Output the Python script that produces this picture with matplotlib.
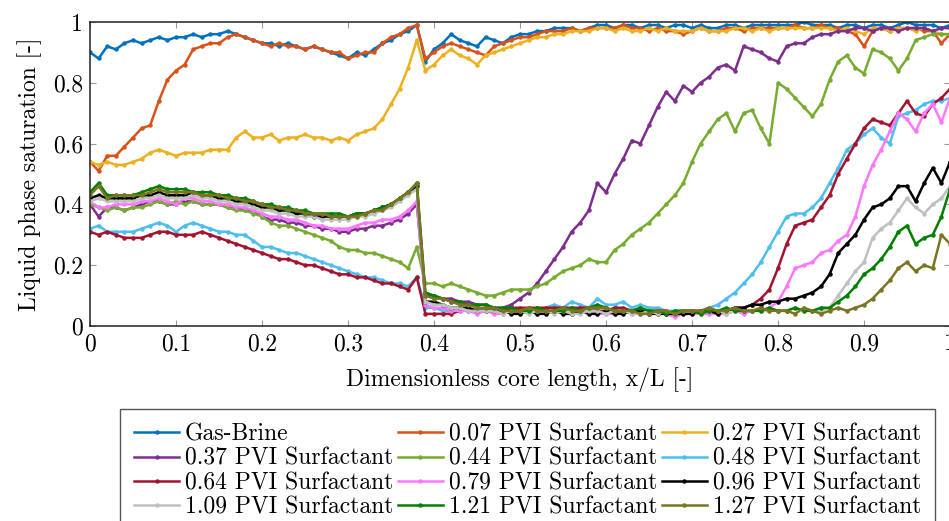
import numpy as np
import matplotlib
matplotlib.use("Agg")
import matplotlib.pyplot as plt

plt.rcParams['font.family'] = ['cmr10', 'DejaVu Serif']
plt.rcParams['axes.formatter.use_mathtext'] = True
plt.rcParams['mathtext.fontset'] = 'cm'

# Saturation profiles sampled every 0.01 along the core
x_pos = np.linspace(0.0, 1.0, 101)

gas_brine = [
    0.90, 0.88, 0.92, 0.91, 0.93, 0.94, 0.93, 0.94, 0.95, 0.94,
    0.95, 0.95, 0.96, 0.95, 0.96, 0.96, 0.97, 0.96, 0.95, 0.94,
    0.93, 0.93, 0.92, 0.93, 0.92, 0.91, 0.92, 0.91, 0.90, 0.89,
    0.88, 0.90, 0.89, 0.91, 0.93, 0.94, 0.96, 0.97, 0.99, 0.87,
    0.91, 0.93, 0.96, 0.94, 0.93, 0.92, 0.95, 0.94, 0.93, 0.95,
    0.96, 0.96, 0.97, 0.97, 0.98, 0.98, 0.98, 0.97, 0.98, 0.99,
    0.99, 0.98, 0.99, 0.99, 0.98, 0.99, 0.99, 0.98, 0.99, 0.99,
    0.98, 0.99, 0.98, 0.98, 0.99, 0.99, 0.98, 0.99, 0.99, 0.99,
    0.99, 0.99, 0.99, 1.00, 0.99, 0.99, 0.99, 0.98, 0.99, 0.99,
    0.98, 0.99, 0.99, 0.98, 0.99, 1.00, 0.99, 0.99, 0.99, 0.98,
    0.99]
pvi_007 = [
    0.54, 0.51, 0.56, 0.56, 0.59, 0.62, 0.65, 0.66, 0.74, 0.81,
    0.84, 0.86, 0.91, 0.92, 0.93, 0.93, 0.95, 0.96, 0.95, 0.94,
    0.93, 0.92, 0.93, 0.92, 0.92, 0.91, 0.92, 0.91, 0.90, 0.90,
    0.88, 0.89, 0.90, 0.90, 0.93, 0.95, 0.96, 0.98, 0.99, 0.88,
    0.90, 0.92, 0.93, 0.92, 0.91, 0.90, 0.89, 0.92, 0.93, 0.94,
    0.95, 0.95, 0.96, 0.97, 0.97, 0.97, 0.98, 0.97, 0.98, 0.98,
    0.98, 0.98, 0.99, 0.98, 0.98, 0.97, 0.98, 0.97, 0.97, 0.96,
    0.97, 0.98, 0.97, 0.97, 0.98, 0.98, 0.97, 0.98, 0.98, 0.98,
    0.98, 0.98, 0.99, 0.98, 0.98, 0.99, 0.98, 0.98, 0.97, 0.96,
    0.92, 0.97, 0.98, 0.97, 0.98, 0.98, 0.98, 0.97, 0.97, 0.93,
    0.96]
pvi_027 = [
    0.54, 0.53, 0.54, 0.53, 0.53, 0.54, 0.55, 0.57, 0.58, 0.57,
    0.56, 0.57, 0.57, 0.57, 0.58, 0.58, 0.58, 0.62, 0.64, 0.62,
    0.62, 0.63, 0.61, 0.62, 0.62, 0.63, 0.62, 0.62, 0.61, 0.62,
    0.61, 0.63, 0.64, 0.65, 0.68, 0.73, 0.78, 0.85, 0.94, 0.84,
    0.86, 0.89, 0.91, 0.89, 0.88, 0.86, 0.89, 0.90, 0.91, 0.92,
    0.93, 0.94, 0.95, 0.95, 0.96, 0.96, 0.97, 0.97, 0.97, 0.98,
    0.98, 0.97, 0.98, 0.97, 0.97, 0.98, 0.97, 0.98, 0.97, 0.97,
    0.97, 0.98, 0.97, 0.97, 0.97, 0.98, 0.98, 0.97, 0.98, 0.97,
    0.98, 0.98, 0.98, 0.98, 0.98, 0.98, 0.98, 0.97, 0.98, 0.97,
    0.96, 0.98, 0.98, 0.97, 0.98, 0.98, 0.97, 0.98, 0.97, 0.96,
    0.96]
pvi_037 = [
    0.40, 0.36, 0.39, 0.39, 0.38, 0.39, 0.40, 0.41, 0.41, 0.40,
    0.40, 0.41, 0.41, 0.40, 0.40, 0.40, 0.39, 0.39, 0.38, 0.38,
    0.36, 0.35, 0.35, 0.34, 0.34, 0.33, 0.33, 0.32, 0.32, 0.31,
    0.31, 0.32, 0.32, 0.33, 0.33, 0.34, 0.35, 0.37, 0.40, 0.10,
    0.10, 0.09, 0.09, 0.08, 0.08, 0.07, 0.07, 0.06, 0.06, 0.07,
    0.09, 0.11, 0.14, 0.18, 0.22, 0.26, 0.31, 0.34, 0.38, 0.47,
    0.44, 0.50, 0.55, 0.61, 0.60, 0.66, 0.72, 0.77, 0.74, 0.79,
    0.77, 0.80, 0.82, 0.85, 0.86, 0.84, 0.92, 0.91, 0.90, 0.88,
    0.87, 0.92, 0.93, 0.93, 0.95, 0.96, 0.96, 0.97, 0.97, 0.98,
    0.98, 0.97, 0.98, 0.98, 0.97, 0.98, 0.98, 0.98, 0.97, 0.98,
    0.98]
pvi_044 = [
    0.40, 0.39, 0.38, 0.39, 0.38, 0.39, 0.39, 0.40, 0.41, 0.40,
    0.41, 0.40, 0.41, 0.40, 0.40, 0.40, 0.39, 0.38, 0.38, 0.37,
    0.36, 0.34, 0.33, 0.33, 0.32, 0.31, 0.30, 0.29, 0.28, 0.26,
    0.25, 0.25, 0.24, 0.24, 0.23, 0.22, 0.21, 0.19, 0.26, 0.14,
    0.14, 0.13, 0.14, 0.13, 0.12, 0.11, 0.10, 0.10, 0.11, 0.12,
    0.12, 0.12, 0.13, 0.14, 0.16, 0.18, 0.19, 0.20, 0.22, 0.21,
    0.21, 0.25, 0.27, 0.30, 0.32, 0.34, 0.37, 0.40, 0.43, 0.47,
    0.54, 0.60, 0.64, 0.68, 0.70, 0.64, 0.70, 0.71, 0.65, 0.60,
    0.80, 0.78, 0.75, 0.72, 0.69, 0.73, 0.81, 0.87, 0.89, 0.85,
    0.83, 0.91, 0.90, 0.88, 0.84, 0.88, 0.94, 0.95, 0.96, 0.96,
    0.96]
pvi_048 = [
    0.32, 0.33, 0.31, 0.31, 0.31, 0.31, 0.32, 0.33, 0.34, 0.33,
    0.31, 0.33, 0.34, 0.33, 0.32, 0.31, 0.31, 0.30, 0.30, 0.28,
    0.26, 0.26, 0.25, 0.24, 0.24, 0.23, 0.22, 0.21, 0.20, 0.19,
    0.18, 0.17, 0.16, 0.16, 0.15, 0.14, 0.14, 0.13, 0.16, 0.06,
    0.06, 0.05, 0.05, 0.06, 0.05, 0.05, 0.06, 0.05, 0.05, 0.06,
    0.05, 0.06, 0.05, 0.06, 0.07, 0.06, 0.08, 0.07, 0.06, 0.09,
    0.07, 0.07, 0.08, 0.06, 0.07, 0.06, 0.06, 0.05, 0.05, 0.05,
    0.05, 0.05, 0.06, 0.07, 0.09, 0.11, 0.14, 0.17, 0.21, 0.26,
    0.31, 0.36, 0.37, 0.37, 0.39, 0.42, 0.47, 0.52, 0.58, 0.60,
    0.63, 0.65, 0.62, 0.60, 0.69, 0.70, 0.71, 0.73, 0.74, 0.74,
    0.75]
pvi_064 = [
    0.31, 0.30, 0.31, 0.30, 0.29, 0.29, 0.29, 0.30, 0.31, 0.31,
    0.30, 0.30, 0.30, 0.31, 0.30, 0.29, 0.28, 0.27, 0.26, 0.25,
    0.24, 0.23, 0.22, 0.22, 0.21, 0.20, 0.20, 0.19, 0.18, 0.17,
    0.17, 0.16, 0.16, 0.15, 0.14, 0.14, 0.13, 0.12, 0.16, 0.04,
    0.04, 0.04, 0.04, 0.05, 0.05, 0.05, 0.05, 0.06, 0.05, 0.06,
    0.06, 0.06, 0.06, 0.06, 0.06, 0.06, 0.06, 0.06, 0.06, 0.05,
    0.05, 0.06, 0.06, 0.05, 0.05, 0.05, 0.05, 0.05, 0.04, 0.05,
    0.05, 0.05, 0.05, 0.05, 0.05, 0.06, 0.06, 0.07, 0.09, 0.12,
    0.19, 0.27, 0.33, 0.34, 0.35, 0.39, 0.43, 0.50, 0.55, 0.60,
    0.65, 0.68, 0.67, 0.66, 0.70, 0.74, 0.70, 0.69, 0.73, 0.75,
    0.78]
pvi_079 = [
    0.41, 0.39, 0.39, 0.40, 0.40, 0.40, 0.41, 0.41, 0.42, 0.41,
    0.40, 0.42, 0.42, 0.41, 0.41, 0.40, 0.40, 0.39, 0.39, 0.38,
    0.37, 0.36, 0.36, 0.35, 0.35, 0.34, 0.33, 0.33, 0.32, 0.32,
    0.32, 0.33, 0.34, 0.34, 0.35, 0.35, 0.36, 0.38, 0.41, 0.07,
    0.06, 0.06, 0.05, 0.05, 0.05, 0.04, 0.05, 0.04, 0.04, 0.05,
    0.04, 0.05, 0.04, 0.04, 0.05, 0.04, 0.04, 0.05, 0.04, 0.04,
    0.04, 0.04, 0.05, 0.04, 0.04, 0.04, 0.04, 0.04, 0.03, 0.04,
    0.04, 0.04, 0.04, 0.04, 0.04, 0.05, 0.04, 0.05, 0.05, 0.06,
    0.08, 0.13, 0.19, 0.20, 0.21, 0.24, 0.25, 0.28, 0.30, 0.36,
    0.46, 0.53, 0.58, 0.64, 0.70, 0.68, 0.64, 0.70, 0.73, 0.67,
    0.75]
pvi_096 = [
    0.42, 0.43, 0.42, 0.42, 0.42, 0.42, 0.43, 0.43, 0.44, 0.43,
    0.43, 0.43, 0.44, 0.43, 0.43, 0.42, 0.42, 0.41, 0.41, 0.40,
    0.39, 0.39, 0.38, 0.38, 0.37, 0.37, 0.36, 0.36, 0.36, 0.36,
    0.36, 0.37, 0.37, 0.38, 0.39, 0.40, 0.42, 0.44, 0.46, 0.08,
    0.08, 0.07, 0.06, 0.06, 0.06, 0.05, 0.05, 0.05, 0.05, 0.04,
    0.04, 0.05, 0.04, 0.04, 0.05, 0.04, 0.04, 0.05, 0.04, 0.04,
    0.05, 0.04, 0.04, 0.05, 0.05, 0.04, 0.04, 0.04, 0.04, 0.04,
    0.04, 0.05, 0.05, 0.04, 0.05, 0.06, 0.06, 0.07, 0.07, 0.08,
    0.08, 0.09, 0.09, 0.10, 0.11, 0.13, 0.17, 0.24, 0.27, 0.30,
    0.35, 0.39, 0.40, 0.42, 0.46, 0.46, 0.41, 0.47, 0.52, 0.47,
    0.54]
pvi_109 = [
    0.41, 0.42, 0.41, 0.41, 0.41, 0.41, 0.42, 0.42, 0.43, 0.42,
    0.42, 0.42, 0.43, 0.42, 0.42, 0.41, 0.41, 0.40, 0.40, 0.39,
    0.38, 0.38, 0.37, 0.37, 0.36, 0.36, 0.36, 0.35, 0.35, 0.35,
    0.35, 0.36, 0.36, 0.37, 0.38, 0.39, 0.41, 0.43, 0.45, 0.08,
    0.07, 0.07, 0.06, 0.06, 0.05, 0.05, 0.05, 0.05, 0.04, 0.05,
    0.05, 0.04, 0.05, 0.05, 0.04, 0.05, 0.04, 0.04, 0.05, 0.05,
    0.04, 0.05, 0.05, 0.04, 0.04, 0.05, 0.04, 0.05, 0.04, 0.05,
    0.05, 0.04, 0.05, 0.05, 0.04, 0.05, 0.05, 0.05, 0.05, 0.05,
    0.05, 0.05, 0.06, 0.05, 0.05, 0.05, 0.06, 0.10, 0.14, 0.18,
    0.21, 0.29, 0.32, 0.34, 0.38, 0.42, 0.39, 0.37, 0.40, 0.42,
    0.46]
pvi_121 = [
    0.44, 0.47, 0.43, 0.43, 0.43, 0.43, 0.44, 0.45, 0.46, 0.45,
    0.45, 0.45, 0.44, 0.44, 0.44, 0.43, 0.43, 0.42, 0.42, 0.41,
    0.40, 0.40, 0.39, 0.39, 0.38, 0.38, 0.37, 0.37, 0.37, 0.37,
    0.36, 0.37, 0.37, 0.38, 0.39, 0.40, 0.42, 0.44, 0.47, 0.11,
    0.10, 0.09, 0.08, 0.08, 0.07, 0.07, 0.07, 0.06, 0.06, 0.06,
    0.05, 0.05, 0.06, 0.05, 0.05, 0.05, 0.06, 0.05, 0.06, 0.07,
    0.06, 0.05, 0.05, 0.05, 0.06, 0.05, 0.05, 0.04, 0.05, 0.05,
    0.05, 0.04, 0.05, 0.05, 0.06, 0.05, 0.05, 0.05, 0.05, 0.06,
    0.05, 0.05, 0.06, 0.05, 0.05, 0.06, 0.06, 0.08, 0.10, 0.13,
    0.17, 0.19, 0.22, 0.26, 0.31, 0.33, 0.27, 0.29, 0.30, 0.36,
    0.45]
pvi_127 = [
    0.43, 0.46, 0.42, 0.43, 0.43, 0.43, 0.43, 0.44, 0.45, 0.44,
    0.44, 0.44, 0.44, 0.43, 0.43, 0.43, 0.42, 0.42, 0.41, 0.41,
    0.40, 0.39, 0.39, 0.38, 0.38, 0.37, 0.37, 0.37, 0.36, 0.36,
    0.36, 0.36, 0.37, 0.38, 0.38, 0.40, 0.42, 0.44, 0.47, 0.10,
    0.09, 0.09, 0.08, 0.07, 0.07, 0.06, 0.06, 0.06, 0.05, 0.05,
    0.05, 0.06, 0.05, 0.05, 0.05, 0.06, 0.05, 0.05, 0.06, 0.06,
    0.06, 0.05, 0.05, 0.05, 0.04, 0.04, 0.05, 0.05, 0.04, 0.05,
    0.05, 0.05, 0.06, 0.05, 0.05, 0.06, 0.05, 0.05, 0.06, 0.05,
    0.05, 0.05, 0.04, 0.06, 0.05, 0.04, 0.05, 0.06, 0.05, 0.06,
    0.07, 0.09, 0.12, 0.15, 0.19, 0.21, 0.18, 0.20, 0.19, 0.30,
    0.27]

labels = ['Gas-Brine', '0.07 PVI Surfactant', '0.27 PVI Surfactant',
          '0.37 PVI Surfactant', '0.44 PVI Surfactant', '0.48 PVI Surfactant',
          '0.64 PVI Surfactant', '0.79 PVI Surfactant', '0.96 PVI Surfactant',
          '1.09 PVI Surfactant', '1.21 PVI Surfactant', '1.27 PVI Surfactant']
series = [gas_brine, pvi_007, pvi_027, pvi_037, pvi_044, pvi_048,
          pvi_064, pvi_079, pvi_096, pvi_109, pvi_121, pvi_127]
colors = ['#0072BD', '#D95319', '#EDB120', '#7E2F8E', '#77AC30', '#4DBEEE',
          '#A2142F', '#FF77FF', '#000000', '#C0C0C0', '#007F00', '#7A7520']

FS = 17

fig = plt.figure(figsize=(9.49, 5.21), dpi=100)
ax = fig.add_axes([90 / 949, 195 / 521, 860 / 949, 304 / 521])

handles = []
for vals, lab, col in zip(series, labels, colors):
    h, = ax.plot(x_pos, vals, color=col, lw=1.8, marker='o', ms=2.2,
                 mec=col, mfc=col, label=lab)
    handles.append(h)

ax.set_xlim(0, 1)
ax.set_ylim(0, 1)
ax.set_xticks(np.arange(0, 1.01, 0.1))
ax.set_xticklabels(['0', '0.1', '0.2', '0.3', '0.4', '0.5', '0.6', '0.7',
                    '0.8', '0.9', '1'])
ax.set_yticks(np.arange(0, 1.01, 0.2))
ax.set_yticklabels(['0', '0.2', '0.4', '0.6', '0.8', '1'])
ax.tick_params(direction='in', length=4, width=0.8, color='#9a9a9a',
               top=True, right=True, labelsize=FS, pad=5)
for sp in ax.spines.values():
    sp.set_color('#222222')
    sp.set_linewidth(1.1)

ax.set_xlabel('Dimensionless core length, x/L [-]', fontsize=FS, labelpad=9)
ax.set_ylabel('Liquid phase saturation [-]', fontsize=FS, labelpad=8)

# row-major ordering for a three-column legend
order = [0, 3, 6, 9, 1, 4, 7, 10, 2, 5, 8, 11]
leg = fig.legend([handles[i] for i in order], [labels[i] for i in order],
                 ncol=3, loc='upper left', bbox_to_anchor=(120 / 949, 112 / 521),
                 fontsize=FS, frameon=True, fancybox=False, framealpha=1,
                 edgecolor='#555555', borderpad=0.6, labelspacing=0.1,
                 handlelength=1.9, handletextpad=0.25, columnspacing=0.2,
                 numpoints=1, borderaxespad=0)
leg.get_frame().set_linewidth(1.0)

fig.savefig('out.png', dpi=100)
